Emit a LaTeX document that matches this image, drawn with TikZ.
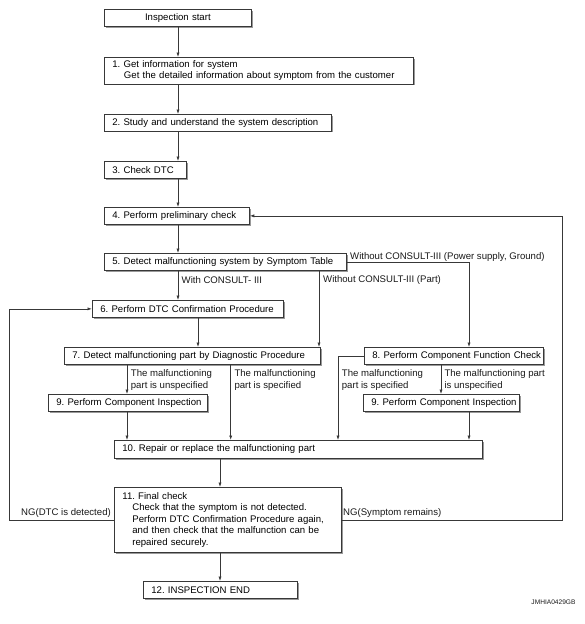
\documentclass[tikz,border=0pt]{standalone}
\usepackage{fontspec}
\setmainfont{Liberation Sans}
\usetikzlibrary{arrows.meta,shadows}
\newcommand\dgfont{\fontsize{9.6}{11.6}\selectfont\frenchspacing}
\newcommand\dgsmall{\fontsize{6.6}{8}\selectfont}
\tikzset{
  box/.style={draw=black!78, line width=0.75pt, fill=white, anchor=north west,
    inner xsep=8pt, inner ysep=0pt, align=left, font=\dgfont,
    drop shadow={shadow xshift=1.3pt, shadow yshift=-1.3pt, opacity=0.4, fill=black}},
  conn/.style={draw=black!78, line width=0.75pt},
  arr/.style={conn, -{Latex[length=4.5pt,width=3.2pt]}},
  lbl/.style={inner sep=0pt, align=left, font=\dgfont, text=black!90},
}
\begin{document}
\begin{tikzpicture}[x=1pt,y=-1pt]
\useasboundingbox[fill=white] (0,0) rectangle (585,624);
% helper columns
\coordinate (mx) at (178,0);
\coordinate (p9) at (9.3,0);
\coordinate (p127) at (127,0);
\coordinate (p198) at (198,0);
\coordinate (p220) at (220,0);
\coordinate (p231) at (230.7,0);
\coordinate (p319) at (319,0);
\coordinate (p338) at (338,0);
\coordinate (p441) at (441,0);
\coordinate (p469) at (469,0);
\coordinate (p562) at (562.3,0);

% boxes
\node[box, align=center, minimum width=147pt, minimum height=17pt, text width=131pt] (st) at (104,9) {Inspection start};
\node[box, minimum width=309pt, minimum height=26.5pt, text width=293pt] (b1) at (104,57)
  {\mbox{1. Get information for system}\\\mbox{\hspace*{11.6pt}Get the detailed information about symptom from the customer}};
\node[box, minimum width=227pt, minimum height=16.5pt, text width=211pt] (b2) at (104,114) {\mbox{2. Study and understand the system description}};
\node[box, minimum width=82pt, minimum height=17pt, text width=66pt] (b3) at (104,161) {3. Check DTC};
\node[box, minimum width=145pt, minimum height=17pt, text width=129pt] (b4) at (104,207) {\mbox{4. Perform preliminary check}};
\node[box, minimum width=242pt, minimum height=17pt, text width=226pt] (b5) at (104,253) {\mbox{5. Detect malfunctioning system by Symptom Table}};
\node[box, minimum width=191pt, minimum height=17pt, text width=175pt] (b6) at (92,300) {\mbox{6. Perform DTC Confirmation Procedure}};
\node[box, minimum width=256pt, minimum height=17pt, text width=240pt] (b7) at (64,347) {\mbox{7. Detect malfunctioning part by Diagnostic Procedure}};
\node[box, minimum width=179pt, minimum height=17pt, text width=163pt] (b8) at (364,347) {\mbox{8. Perform Component Function Check}};
\node[box, minimum width=159pt, minimum height=17pt, text width=143pt] (b9l) at (48,394) {\mbox{9. Perform Component Inspection}};
\node[box, minimum width=156pt, minimum height=17pt, text width=140pt] (b9r) at (363,394) {\mbox{9. Perform Component Inspection}};
\node[box, minimum width=368pt, minimum height=18pt, text width=352pt] (b10) at (114,440) {\mbox{10. Repair or replace the malfunctioning part}};
\node[box, minimum width=227pt, minimum height=65pt, text width=211pt] (b11) at (114,487)
  {\mbox{11. Final check}\\
   \mbox{\hspace*{10pt}Check that the symptom is not detected.}\\
   \mbox{\hspace*{10pt}Perform DTC Confirmation Procedure again,}\\
   \mbox{\hspace*{10pt}and then check that the malfunction can be}\\
   \mbox{\hspace*{10pt}repaired securely.}};
\node[box, minimum width=154pt, minimum height=17pt, text width=138pt] (b12) at (143,581) {12. INSPECTION END};

% main spine
\draw[arr] (st.south -| mx) -- (b1.north -| mx);
\draw[arr] (b1.south -| mx) -- (b2.north -| mx);
\draw[arr] (b2.south -| mx) -- (b3.north -| mx);
\draw[arr] (b3.south -| mx) -- (b4.north -| mx);
\draw[arr] (b4.south -| mx) -- (b5.north -| mx);
\draw[arr] (b5.south -| mx) -- (b6.north -| mx);

% branches from 5
\draw[arr] (b5.south -| p319) -- (b7.north -| p319);
\draw[arr] (b5.east) -| (p469 |- b8.north);
\draw[arr] (b6.south -| p198) -- (b7.north -| p198);

% from 7
\draw[arr] (b7.south -| p127) -- (b9l.north -| p127);
\draw[arr] (b7.south -| p231) -- (b10.north -| p231);
% from 8
\draw[arr] (b8.west) -| (p338 |- b10.north);
\draw[arr] (b8.south -| p441) -- (b9r.north -| p441);
% from 9s
\draw[arr] (b9l.south -| p127) -- (b10.north -| p127);
\draw[arr] (b9r.south -| p469) -- (b10.north -| p469);
% 10 -> 11 -> 12
\draw[arr] (b10.south -| p220) -- (b11.north -| p220);
\draw[arr] (b11.south -| p220) -- (b12.north -| p220);
% loops
\draw[arr] (b11.west) -| (p9 |- b6.west) -- (b6.west);
\draw[arr] (b11.east) -| (p562 |- b4.east) -- (b4.east);

% labels
\node[lbl, anchor=west] (l1) at (181.5,280) {With CONSULT- III};
\node[lbl, anchor=west] (l2) at (323,280) {Without CONSULT-III (Part)};
\node[lbl, anchor=west] (l3) at (350,257) {Without CONSULT-III (Power supply, Ground)};
\node[lbl, anchor=west] (l4) at (130.7,380.3) {The malfunctioning\\part is unspecified};
\node[lbl, anchor=west] (l5) at (234.3,380.3) {The malfunctioning\\part is specified};
\node[lbl, anchor=west] (l6) at (341.7,380.3) {The malfunctioning\\part is specified};
\node[lbl, anchor=west] (l7) at (444.3,380.3) {The malfunctioning part\\is unspecified};
\node[lbl, anchor=east] (l8) at (111,513) {NG(DTC is detected)};
\node[lbl, anchor=west] (l9) at (343,513) {NG(Symptom remains)};
\node[lbl, anchor=east, font=\dgsmall] (id) at (575.7,602) {JMHIA0429GB};
\end{tikzpicture}
\end{document}
